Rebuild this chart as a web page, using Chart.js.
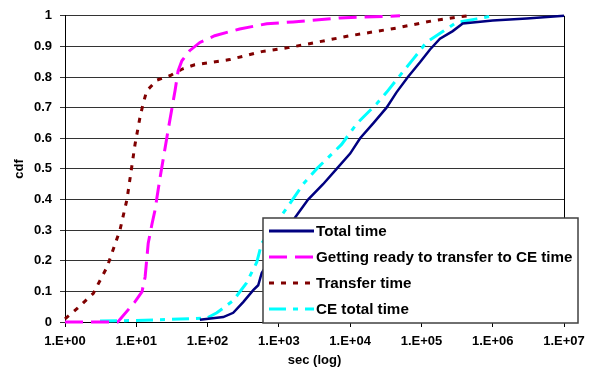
<!DOCTYPE html>
<html>
<head>
<meta charset="utf-8">
<script src="https://cdn.jsdelivr.net/npm/chart.js@4"></script>
<style>
  html, body { margin: 0; padding: 0; background: #fff; }
</style>
</head>
<body>
<canvas id="grafico" width="597" height="370"></canvas>
<script>
// Nombres de las series
const seriesNames = ['Total time', 'Getting ready to transfer to CE time', 'Transfer time', 'CE total time'];

// Total time
const totalSec = [78, 166, 229, 316, 437, 513, 575, 1700, 2570, 4170, 6460, 10000, 13800, 20900, 32400, 44700, 64600, 95500, 132000, 182000, 275000, 380000, 1000000, 3000000, 10000000];
const totalCdf = [0.007, 0.016, 0.03, 0.065, 0.104, 0.12, 0.16, 0.342, 0.40, 0.45, 0.50, 0.55, 0.60, 0.648, 0.70, 0.75, 0.80, 0.848, 0.89, 0.925, 0.95, 0.975, 0.985, 0.991, 1.0];

// Getting ready to transfer to CE time
const readySec = [1, 5.5, 9.5, 12, 13.3, 14.7, 16.6, 18.3, 21.5, 25, 29.6, 35, 38.6, 43.6, 56, 78, 126, 282, 676, 1580, 7200, 50000];
const readyCdf = [0, 0, 0.065, 0.098, 0.147, 0.257, 0.32, 0.365, 0.47, 0.56, 0.66, 0.756, 0.82, 0.853, 0.886, 0.913, 0.935, 0.957, 0.974, 0.98, 0.993, 1.0];

// Transfer time
const transferSec = [1, 1.5, 2.5, 3.9, 5.9, 7.4, 9.6, 11.3, 12.4, 14, 19.5, 30, 45, 66, 204, 575, 1350, 2190, 10000, 44700, 145000, 440000];
const transferCdf = [0.01, 0.045, 0.094, 0.18, 0.30, 0.40, 0.58, 0.67, 0.71, 0.755, 0.79, 0.805, 0.827, 0.84, 0.857, 0.883, 0.896, 0.905, 0.935, 0.96, 0.984, 1.0];

// CE total time
const ceSec = [3.1, 10, 41, 98, 135, 229, 350, 490, 575, 1230, 2190, 3390, 7590, 12300, 23400, 32400, 56200, 77600, 117000, 204000, 309000, 600000, 1000000];
const ceCdf = [0.003, 0.005, 0.01, 0.013, 0.03, 0.07, 0.127, 0.195, 0.257, 0.365, 0.45, 0.50, 0.58, 0.647, 0.712, 0.75, 0.82, 0.86, 0.913, 0.95, 0.978, 0.99, 1.0];

// Marcas del eje x
const xTickValues = [1, 10, 100, 1000, 10000, 100000, 1000000, 10000000];
const xTickLabels = ['1.E+00', '1.E+01', '1.E+02', '1.E+03', '1.E+04', '1.E+05', '1.E+06', '1.E+07'];

function puntos(xs, ys) {
  return xs.map((x, i) => ({ x: x, y: ys[i] }));
}

Chart.defaults.font.family = '"Liberation Sans", Arial, sans-serif';
Chart.defaults.color = '#000';

const data = {
  datasets: [
    {
      label: seriesNames[0],
      data: puntos(totalSec, totalCdf),
      borderColor: '#000080',
      borderWidth: 2.5,
      borderDash: []
    },
    {
      label: seriesNames[1],
      data: puntos(readySec, readyCdf),
      borderColor: '#FF00FF',
      borderWidth: 3,
      borderDash: [18, 8]
    },
    {
      label: seriesNames[2],
      data: puntos(transferSec, transferCdf),
      borderColor: '#800000',
      borderWidth: 3,
      borderDash: [5, 7]
    },
    {
      label: seriesNames[3],
      data: puntos(ceSec, ceCdf),
      borderColor: '#00FFFF',
      borderWidth: 3,
      borderDash: [17, 7, 5, 7]
    }
  ]
};

// Marco derecho del area del grafico
const marco = {
  id: 'marco',
  beforeDatasetsDraw(chart) {
    const a = chart.chartArea;
    const ctx = chart.ctx;
    ctx.save();
    ctx.strokeStyle = '#000';
    ctx.lineWidth = 1;
    ctx.beginPath();
    ctx.moveTo(a.right + 0.5, a.top);
    ctx.lineTo(a.right + 0.5, a.bottom);
    ctx.stroke();
    ctx.restore();
  }
};

// Leyenda dibujada a mano (cuadro encima del grafico)
const leyenda = {
  id: 'leyenda',
  afterDraw(chart) {
    const ctx = chart.ctx;
    const box = { left: 263, top: 218, right: 578, bottom: 323 };
    ctx.save();
    ctx.fillStyle = '#fff';
    ctx.fillRect(box.left, box.top, box.right - box.left, box.bottom - box.top);
    ctx.strokeStyle = '#404040';
    ctx.lineWidth = 1.5;
    ctx.strokeRect(box.left, box.top, box.right - box.left, box.bottom - box.top);
    chart.data.datasets.forEach((ds, i) => {
      const y = 231 + i * 26;
      ctx.beginPath();
      ctx.setLineDash(ds.borderDash);
      ctx.strokeStyle = ds.borderColor;
      ctx.lineWidth = 3;
      ctx.moveTo(269, y);
      ctx.lineTo(314, y);
      ctx.stroke();
      ctx.setLineDash([]);
      ctx.fillStyle = '#000';
      ctx.font = 'bold 15.2px "Liberation Sans", Arial, sans-serif';
      ctx.textBaseline = 'middle';
      ctx.fillText(ds.label, 316, y + 1);
    });
    ctx.restore();
  }
};

const ctx = document.getElementById('grafico').getContext('2d');

const options = {
  responsive: false,
  animation: false,
  layout: {
    padding: { top: 15, right: 33, left: 0, bottom: 0 }
  },
  elements: {
    point: { radius: 0 },
    line: { tension: 0, fill: false }
  },
  datasets: {
    scatter: { showLine: true, clip: false }
  },
  plugins: {
    legend: { display: false },
    tooltip: { enabled: false }
  },
  scales: {
    x: {
      type: 'logarithmic',
      min: 1,
      max: 10000000,
      afterBuildTicks: (scale) => {
        scale.ticks = xTickValues.map(v => ({ value: v }));
      },
      afterFit: (scale) => { scale.height = 48; },
      ticks: {
        autoSkip: false,
        maxRotation: 0,
        padding: 7,
        font: { size: 13, weight: 'bold' },
        callback: (v) => {
          const i = xTickValues.indexOf(v);
          return i >= 0 ? xTickLabels[i] : '';
        }
      },
      grid: {
        drawOnChartArea: false,
        drawTicks: true,
        tickLength: 5,
        color: '#000'
      },
      border: { color: '#000', width: 1 },
      title: {
        display: true,
        text: 'sec (log)',
        font: { size: 13, weight: 'bold' },
        padding: { top: 0, bottom: 2 }
      }
    },
    y: {
      min: 0,
      max: 1,
      afterFit: (scale) => { scale.width = 65; },
      ticks: {
        stepSize: 0.1,
        padding: 8,
        font: { size: 13, weight: 'bold' },
        callback: (v) => String(+v.toFixed(1))
      },
      grid: {
        color: '#333',
        lineWidth: 1,
        drawTicks: true,
        tickLength: 5
      },
      border: { color: '#000', width: 1 },
      title: {
        display: true,
        text: 'cdf',
        font: { size: 13, weight: 'bold' },
        padding: { top: 12, bottom: 0 }
      }
    }
  }
};

const myChart = new Chart(ctx, {
  type: 'scatter',
  data: data,
  options: options,
  plugins: [marco, leyenda]
});
</script>
</body>
</html>
